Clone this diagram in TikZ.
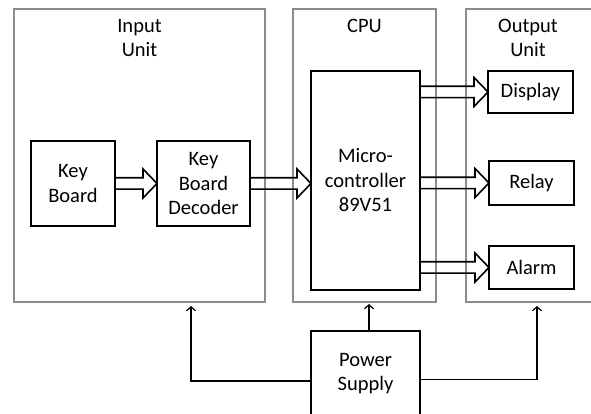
\documentclass[tikz,border=0pt]{standalone}
\usepackage{fontspec}
\setmainfont{Carlito}
\usetikzlibrary{positioning,calc,arrows.meta}
\definecolor{rim}{HTML}{8C8C8C}
\definecolor{ink}{HTML}{000000}

\tikzset{
  unit/.style={draw=rim, line width=1.3pt, outer sep=0pt, inner sep=0pt},
  title/.style={inner sep=0pt, anchor=north, align=center, font=\fontsize{20.5}{24.5}\selectfont},
  block/.style={draw=ink, line width=2.3pt, align=center, inner sep=0pt, outer sep=0pt,
    font=\fontsize{20.5}{24.5}\selectfont},
  fat/.style={draw=ink, line width=1.6pt, line join=miter, to path={
    let \p1=(\tikztostart), \p2=(\tikztotarget) in
    (\x1,\y1+5.7pt) -- (\x2-14pt,\y1+5.7pt) -- (\x2-14pt,\y1+14.5pt) -- (\x2,\y1)
    -- (\x2-14pt,\y1-14.5pt) -- (\x2-14pt,\y1-5.7pt) -- (\x1,\y1-5.7pt)}},
  pwr/.style={draw=ink, line width=1.2pt, -{Straight Barb[length=4pt,width=9pt]}},
}

\begin{document}
\begin{tikzpicture}[x=1pt,y=1pt]
      \useasboundingbox (0,0) rectangle (591,414);
      % outer units
      \node[unit, minimum width=251, minimum height=293] (inp) at (139.5,258.5) {};
      \node[unit, minimum width=143, minimum height=293] (cpu) at (364.5,258.5) {};
      \node[unit, minimum width=150, minimum height=293] (out) at (541,258.5) {};
      \node[title, below=10pt of inp.north] (inpt) {Input\\Unit};
      \node[title, below=10pt of cpu.north] (cput) {CPU};
      \node[title, below=10pt of out.north, xshift=-13pt] (outt) {Output\\Unit};
      % blocks
      \node[block, minimum width=84, minimum height=85] (kb) at (73,230.5) {Key\\Board};
      \node[block, minimum width=93, minimum height=85] (kbd) at (203.5,230.5) {Key\\Board\\Decoder};
      \node[block, minimum width=109, minimum height=219] (mc) at (365.5,233.5) {Micro-\\controller\\89V51};
      \node[block, minimum width=85, minimum height=42] (disp) at (530.5,322) {Display};
      \node[block, minimum width=85, minimum height=44] (rel) at (531.5,231) {Relay};
      \node[block, minimum width=85, minimum height=43] (alm) at (531.5,146.5) {Alarm};
      \node[block, minimum width=109, minimum height=85] (ps) at (365.5,40.5) {Power\\Supply};
      % data arrows
      \draw[fat] (kb.east) to (kbd.west);
      \draw[fat] (kbd.east) to (kbd.east -| mc.west);
      \draw[fat] (mc.east |- disp.west) to (disp.west);
      \draw[fat] (mc.east |- rel.west) to (rel.west);
      \draw[fat] (mc.east |- alm.west) to (alm.west);
      % power lines
      \coordinate (pin) at (191,108);
      \coordinate (pcpu) at ([xshift=3.5pt]ps.north |- 0,110);
      \coordinate (pout) at (537,108);
      \draw[pwr] ([yshift=-7.5pt]ps.west) -| (pin);
      \draw[pwr] ([xshift=3.5pt]ps.north) -- (pcpu);
      \draw[pwr] ([yshift=-6pt]ps.east) -| (pout);
    \end{tikzpicture}
\end{document}
